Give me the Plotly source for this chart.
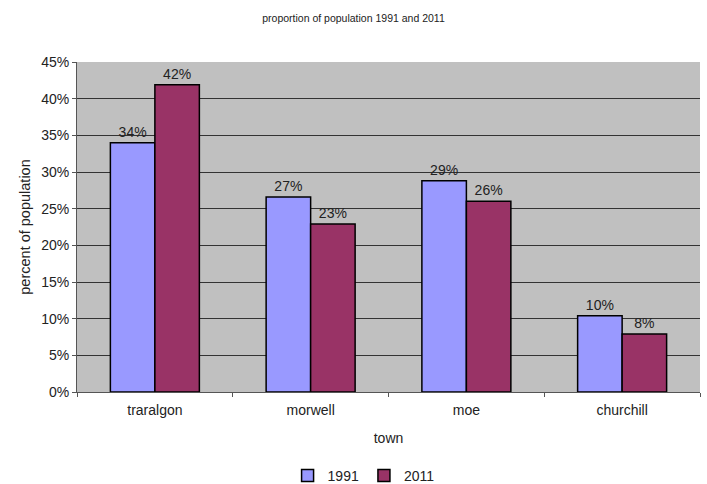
import plotly.graph_objects as go

towns = ["traralgon", "morwell", "moe", "churchill"]
share_1991 = [34.0, 26.6, 28.8, 10.4]
share_2011 = [41.9, 22.9, 26.0, 7.9]
y_ticks = [0, 5, 10, 15, 20, 25, 30, 35, 40, 45]
y_tick_labels = [f"{v}%" for v in y_ticks]

font_family = "Liberation Sans, Arial, sans-serif"
text_color = "#222222"

fig = go.Figure()
for name, values, color in [("1991", share_1991, "#9999FF"),
                            ("2011", share_2011, "#993366")]:
    fig.add_trace(go.Bar(
        name=name, x=towns, y=values,
        marker=dict(color=color, line=dict(color="#000000", width=1.5)),
        texttemplate="%{y:.0f}%", textposition="outside",
        textfont=dict(size=14, color=text_color, family=font_family),
        cliponaxis=False,
    ))

fig.update_layout(
    width=707, height=484,
    margin=dict(l=77, r=7, t=62, b=92, autoexpand=False),
    paper_bgcolor="white", plot_bgcolor="#C0C0C0",
    font=dict(family=font_family, size=14, color=text_color),
    title=dict(text="proportion of population 1991 and 2011",
               x=0.5, xanchor="center", y=1 - 18 / 484, yanchor="middle",
               font=dict(size=10.5, color=text_color)),
    barmode="group", bargap=0.4286, bargroupgap=0,
    showlegend=True,
    legend=dict(orientation="h", x=0.46, xanchor="center",
                y=(392 - 476) / 330, yanchor="middle",
                font=dict(size=14), itemwidth=30, tracegroupgap=0,
                bgcolor="rgba(0,0,0,0)"),
)
fig.update_xaxes(
    title=dict(text="town", standoff=16, font=dict(size=14)),
    showline=True, linecolor="#555555", linewidth=1,
    ticks="outside", tickson="boundaries", ticklen=4, tickcolor="#555555",
    ticklabelstandoff=5,
    showgrid=False,
)
fig.update_yaxes(
    title=dict(text="percent of population", standoff=7, font=dict(size=14.5)),
    range=[0, 45], tickvals=y_ticks, ticktext=y_tick_labels,
    showline=True, linecolor="#555555", linewidth=1,
    ticks="outside", ticklen=4, tickcolor="#555555",
    showgrid=True, gridcolor="#333333", gridwidth=1,
    zeroline=False,
)

fig.write_html("out.html")
